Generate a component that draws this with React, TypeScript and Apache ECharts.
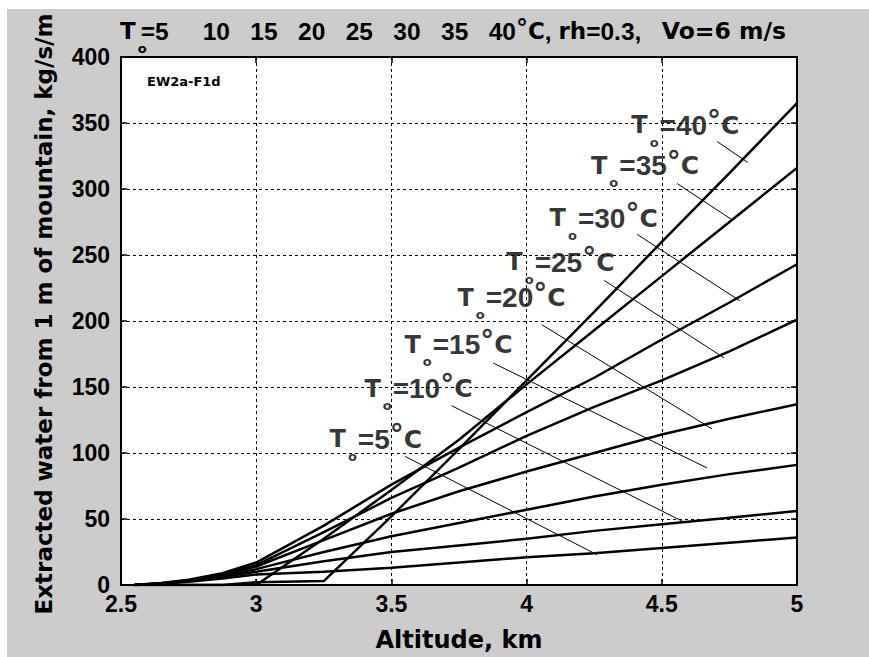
import React, { useEffect, useRef } from "react";
import * as echarts from "echarts";

// ---- data ----
const altitudeKm = [2.55, 2.65, 2.75, 2.875, 3.0, 3.25, 3.5, 3.75, 4.0, 4.25, 4.5, 4.75, 5.0];
const temps = [5, 10, 15, 20, 25, 30, 35, 40];
const water5 = [0, 1, 2.5, 5, 8, 10, 13, 17, 21, 24, 28, 32, 36];
const water10 = [0, 1, 3, 6, 10, 18, 25, 30, 35, 41, 46, 51, 56];
const water15 = [0, 1, 3, 7, 12, 25, 37, 47, 57, 67, 76, 84, 91];
const water20 = [0, 1, 3.5, 8, 14, 34, 54, 71, 86, 100, 114, 126, 137];
const water25 = [0, 1.5, 3.5, 8, 15, 40, 66, 89, 113, 135, 155, 177, 201];
const water30 = [0, 1.5, 4, 9, 17, 45, 76, 104, 131, 157, 186, 214, 243];
const water35 = [0, 0, 0, 0, 0, 35, 72, 110, 152, 193, 234, 275, 316];
const water40 = [0, 0, 0, 0, 2, 3, 52, 103, 155, 207, 260, 312, 365];
const waterSeries = [water5, water10, water15, water20, water25, water30, water35, water40];

// label anchors (data coords) and leader lines
const labelX = [3.273, 3.402, 3.55, 3.746, 3.927, 4.087, 4.24, 4.389];
const labelY = [110.2, 148.2, 181.7, 217.1, 244.3, 277.3, 317.1, 348.1];
const leaderStartX = [3.551, 3.723, 3.877, 4.056, 4.287, 4.409, 4.557, 4.705];
const leaderStartY = [97.4, 135.8, 168.1, 197.2, 230.7, 265.6, 304.1, 335.9];
const leaderEndX = [4.261, 4.58, 4.667, 4.686, 4.73, 4.789, 4.764, 4.818];
const leaderEndY = [22.9, 47.9, 88.7, 118.2, 172.1, 215.3, 276.1, 320.1];

const xMin = 2.5, xMax = 5, xStep = 0.5;
const yMin = 0, yMax = 400, yStep = 50;

const WORD = "DejaVu Sans";
const NUM = "Liberation Sans";

export default function App() {
  const ref = useRef<HTMLDivElement>(null);
  useEffect(() => {
    document.body.style.margin = "0";
    const chart = echarts.init(ref.current!, null, { renderer: "svg" });

    const richLabel = {
      W: { fontFamily: WORD, fontWeight: "bold", fontSize: 24, lineHeight: 47, verticalAlign: "middle", color: "#000" },
      C: { fontFamily: WORD, fontWeight: "bold", fontSize: 25, lineHeight: 47, verticalAlign: "middle", color: "#000" },
      N: { fontFamily: NUM, fontWeight: "bold", fontSize: 28, lineHeight: 47, verticalAlign: "middle", color: "#000" },
      sub: { fontFamily: WORD, fontWeight: "bold", fontSize: 13, lineHeight: 14, verticalAlign: "bottom", padding: [0, 1, 0, 2], color: "#000" },
      sup: { fontFamily: WORD, fontWeight: "bold", fontSize: 28, verticalAlign: "top", padding: [5, 0, 0, 0], color: "#000" },
    };

    const curveSeries = waterSeries.map((vals, k) => ({
      type: "line",
      name: "T" + temps[k],
      data: altitudeKm.map((x, i) => [x, vals[i]]),
      showSymbol: false,
      symbol: "none",
      lineStyle: { color: "#000", width: 2.5 },
      z: 4,
      clip: true,
    }));

    const leaderSeries = temps.map((t, k) => ({
      type: "line",
      name: "leader" + t,
      data: [
        [leaderStartX[k], leaderStartY[k]],
        [leaderEndX[k], leaderEndY[k]],
      ],
      showSymbol: false,
      symbol: "none",
      lineStyle: { color: "#000", width: 1 },
      z: 3,
    }));

    const labelSeries = {
      type: "scatter",
      data: temps.map((t, k) => [labelX[k], labelY[k], t]),
      symbolSize: 1,
      itemStyle: { color: "rgba(0,0,0,0)" },
      z: 5,
      label: {
        show: true,
        position: [0, 0],
        align: "left",
        verticalAlign: "middle",
        formatter: (p: any) => `{W|T}{sub|o}{N|=${p.value[2]}}{sup|°}{C|C}`,
        rich: richLabel,
      },
    };

    const axisBase = { min: xMin, max: xMax, interval: xStep };

    chart.setOption({
      animation: false,
      backgroundColor: "transparent",
      grid: { left: 121, top: 57, width: 676, height: 537, show: true, backgroundColor: "#fff", borderWidth: 0 },
      graphic: [
        {
          type: "text",
          x: 120,
          y: 31,
          style: {
            text: "{W|T}{sub|o}{N|=5     10   15   20   25   30   35   40}{sup|°}{W|C}{N|, }{W|rh}{N|=0.3,   }{V|Vo=6 m/s}",
            align: "left",
            verticalAlign: "middle",
            rich: {
              W: { fontFamily: WORD, fontWeight: "bold", fontSize: 23, lineHeight: 47, verticalAlign: "middle", fill: "#000" },
              V: { fontFamily: WORD, fontWeight: "bold", fontSize: 23.5, lineHeight: 47, verticalAlign: "middle", fill: "#000" },
              N: { fontFamily: NUM, fontWeight: "bold", fontSize: 24.5, lineHeight: 47, verticalAlign: "middle", fill: "#000" },
              sub: { fontFamily: WORD, fontWeight: "bold", fontSize: 13, lineHeight: 12, width: 3, padding: [0, 0, 0, 2], verticalAlign: "bottom", fill: "#000" },
              sup: { fontFamily: WORD, fontWeight: "bold", fontSize: 24, verticalAlign: "top", padding: [9, 0, 0, 0], fill: "#000" },
            },
          },
          z: 10,
        },
        {
          type: "text",
          x: 147,
          y: 81,
          style: {
            text: "EW2a-F1d",
            font: `bold 13px "${WORD}"`,
            fill: "#000",
            align: "left",
            verticalAlign: "middle",
          },
          z: 10,
        },
      ],
      xAxis: [
        {
          type: "value",
          ...axisBase,
          position: "bottom",
          name: "Altitude, km",
          nameLocation: "middle",
          nameGap: 43,
          nameTextStyle: { fontFamily: WORD, fontWeight: "bold", fontSize: 24, color: "#000" },
          axisLine: { show: true, onZero: false, lineStyle: { color: "#000", width: 2 } },
          axisTick: { show: true, inside: true, length: 6, lineStyle: { color: "#000", width: 1.5 } },
          axisLabel: {
            show: true,
            margin: 7,
            fontFamily: NUM,
            fontWeight: "bold",
            fontSize: 23,
            color: "#000",
            formatter: (v: number) => String(v),
          },
          splitLine: { show: true, lineStyle: { color: "#000", width: 1, type: [3, 3] } },
        },
        {
          type: "value",
          ...axisBase,
          position: "top",
          axisLine: { show: true, onZero: false, lineStyle: { color: "#000", width: 2 } },
          axisTick: { show: true, inside: true, length: 6, lineStyle: { color: "#000", width: 1.5 } },
          axisLabel: { show: false },
          splitLine: { show: false },
        },
      ],
      yAxis: [
        {
          type: "value",
          min: yMin,
          max: yMax,
          interval: yStep,
          position: "left",
          name: "Extracted water from 1 m of mountain, kg/s/m",
          nameLocation: "middle",
          nameGap: 66,
          nameRotate: 90,
          nameTextStyle: { fontFamily: WORD, fontWeight: "bold", fontSize: 23, color: "#000", padding: [0, 0, 0, 14] },
          axisLine: { show: true, onZero: false, lineStyle: { color: "#000", width: 2 } },
          axisTick: { show: true, inside: true, length: 6, lineStyle: { color: "#000", width: 1.5 } },
          axisLabel: { show: true, margin: 11, fontFamily: NUM, fontWeight: "bold", fontSize: 23, color: "#000" },
          splitLine: { show: true, lineStyle: { color: "#000", width: 1, type: [3, 3] } },
        },
        {
          type: "value",
          min: yMin,
          max: yMax,
          interval: yStep,
          position: "right",
          axisLine: { show: true, onZero: false, lineStyle: { color: "#000", width: 2 } },
          axisTick: { show: true, inside: true, length: 6, lineStyle: { color: "#000", width: 1.5 } },
          axisLabel: { show: false },
          splitLine: { show: false },
        },
      ],
      series: [...curveSeries, ...leaderSeries, labelSeries],
    });

    return () => chart.dispose();
  }, []);

  return (
    <div style={{ position: "relative", width: 869, height: 657, background: "#fff", overflow: "hidden" }}>
      <div style={{ position: "absolute", left: 7, top: 9, right: 0, bottom: 0, background: "#cccccc" }} />
      <div ref={ref} style={{ position: "absolute", left: 0, top: 0, width: 869, height: 657 }} />
    </div>
  );
}
